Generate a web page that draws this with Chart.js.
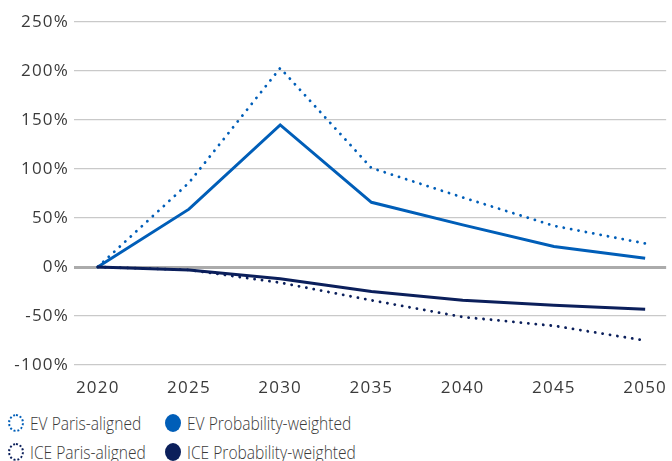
<!DOCTYPE html>
<html>
<head>
<meta charset="utf-8">
<script src="https://cdn.jsdelivr.net/npm/chart.js@4.4.0/dist/chart.umd.min.js"></script>
<style>
    body { margin: 0; background: #fff; font-family: "Open Sans", sans-serif; }
    #wrap { position: relative; width: 672px; height: 400px; }
    #legend { position: absolute; left: 0; top: 408px; width: 672px; }
    .row { height: 29px; position: relative; }
    .item { position: absolute; top: 0; height: 29px; display: flex; align-items: center; color: #3a3a3a; font-size: 18px; font-weight: 300; }
    .item .txt { display: inline-block; transform: scaleX(0.865); transform-origin: left center; white-space: nowrap; }
    .dot { width: 16px; height: 18px; border-radius: 50%; margin-right: 6px; box-sizing: border-box; flex: none; }
</style>
</head>
<body>
<div id="wrap"><canvas id="lineChart"></canvas></div>
<div id="legend"></div>

<script>
// data
const years = [2020, 2025, 2030, 2035, 2040, 2045, 2050];
const evParis = [0, 86, 203, 101, 71, 42, 24];
const evProb = [0, 59, 145, 66, 43, 21, 9];
const iceParis = [0, -3, -16, -34, -51, -60, -75];
const iceProb = [0, -3, -12, -25, -34, -39, -43];
const yTicks = [-100, -50, 0, 50, 100, 150, 200, 250];

const evBlue = '#005EB8';
const iceNavy = '#0B1F5B';

const seriesList = [
    { label: 'EV Paris-aligned', data: evParis, color: evBlue, dotted: true },
    { label: 'EV Probability-weighted', data: evProb, color: evBlue, dotted: false },
    { label: 'ICE Paris-aligned', data: iceParis, color: iceNavy, dotted: true },
    { label: 'ICE Probability-weighted', data: iceProb, color: iceNavy, dotted: false }
];

function makeDataset(s) {
    return {
        label: s.label,
        data: years.map((y, i) => ({ x: y, y: s.data[i] })),
        borderColor: s.color,
        backgroundColor: s.color,
        borderWidth: s.dotted ? 2.8 : 3,
        borderDash: s.dotted ? [0.1, 7.4] : [],
        borderCapStyle: s.dotted ? 'round' : 'butt',
        pointRadius: 0,
        tension: 0
    };
}

const tickFont = { family: '"Open Sans", sans-serif', size: 17 };

// wider digits like the original, via canvas letter spacing
const spacingPlugin = {
    id: 'spacing',
    beforeInit: chart => { chart.ctx.letterSpacing = '1.2px'; },
    beforeLayout: chart => { chart.ctx.letterSpacing = '1.2px'; },
    beforeDraw: chart => { chart.ctx.letterSpacing = '1.2px'; }
};

const ctx = document.getElementById('lineChart').getContext('2d');
new Chart(ctx, {
    type: 'line',
    plugins: [spacingPlugin],
    data: {
        // draw solid lines over dotted ones
        datasets: [seriesList[2], seriesList[0], seriesList[3], seriesList[1]].map(makeDataset)
    },
    options: {
        responsive: true,
        maintainAspectRatio: false,
        animation: false,
        layout: { padding: { top: 22, right: 0, left: 0, bottom: 0 } },
        plugins: {
            legend: { display: false },
            tooltip: { enabled: false }
        },
        scales: {
            x: {
                type: 'linear',
                min: 2018.7,
                max: 2051.15,
                afterBuildTicks: scale => {
                    scale.ticks = years.map(v => ({ value: v }));
                },
                afterFit: scale => { scale.height = 35; },
                grid: { display: false },
                border: { display: false },
                ticks: {
                    color: '#3a3a3a',
                    font: tickFont,
                    padding: 5,
                    maxRotation: 0,
                    callback: v => String(v)
                }
            },
            y: {
                min: -100,
                max: 250,
                afterBuildTicks: scale => {
                    scale.ticks = yTicks.map(v => ({ value: v }));
                },
                afterFit: scale => { scale.width = 74; },
                border: { display: false },
                grid: {
                    drawTicks: false,
                    color: ctx => ctx.tick && ctx.tick.value === 0 ? '#ababab' : '#c9c9c9',
                    lineWidth: ctx => ctx.tick && ctx.tick.value === 0 ? 3 : 1.2
                },
                ticks: {
                    color: '#3a3a3a',
                    font: tickFont,
                    padding: 5,
                    callback: v => v + '%'
                }
            }
        }
    }
});

// legend in two rows, two columns
const legend = document.getElementById('legend');
[[0, 1], [2, 3]].forEach(pair => {
    const row = document.createElement('div');
    row.className = 'row';
    pair.forEach((idx, col) => {
        const s = seriesList[idx];
        const item = document.createElement('div');
        item.className = 'item';
        item.style.left = (col === 0 ? 8 : 165) + 'px';
        const dot = document.createElement('span');
        dot.className = 'dot';
        if (s.dotted) {
            dot.style.border = '2px dotted ' + s.color;
        } else {
            dot.style.background = s.color;
        }
        const txt = document.createElement('span');
        txt.className = 'txt';
        txt.textContent = s.label;
        item.appendChild(dot);
        item.appendChild(txt);
        row.appendChild(item);
    });
    legend.appendChild(row);
});
</script>
</body>
</html>
